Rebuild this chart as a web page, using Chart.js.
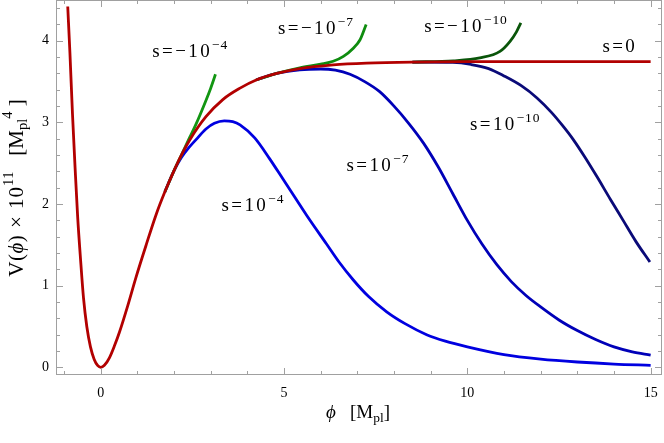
<!DOCTYPE html>
<html><head><meta charset="utf-8">
<script src="https://cdn.jsdelivr.net/npm/chart.js@4.4.1/dist/chart.umd.min.js"></script>
<style>html,body{margin:0;padding:0;background:#fff;}#wrap{width:664px;height:443px;}</style>
</head><body><div id="wrap"><canvas id="c" width="664" height="443"></canvas></div>
<script>
// ---- tick labels ----
const xTicks = [0, 5, 10, 15];
const yTicks = [0, 1, 2, 3, 4];
const xMinorTicks = [-1,0,1,2,3,4,5,6,7,8,9,10,11,12,13,14,15];
const yMinorTicks = [0,0.2,0.4,0.6,0.8,1,1.2,1.4,1.6,1.8,2,2.2,2.4,2.6,2.8,3,3.2,3.4,3.6,3.8,4,4.2,4.4];

// ---- series (phi, V) ----
const phiS0 = [-0.90,-0.84,-0.77,-0.70,-0.63,-0.55,-0.47,-0.38,-0.28,-0.18,-0.08,0,0.10,0.24,0.38,0.51,0.74,0.96,1.24,1.51,1.75,2.0,2.2,2.42,2.87,3.33,3.8,4.24,4.8,5.43,6.34,7.25,8.5,10,12,15];
const vS0   = [4.42,3.85,3.10,2.45,1.85,1.32,0.85,0.50,0.25,0.10,0.02,0,0.025,0.12,0.27,0.43,0.76,1.10,1.50,1.87,2.15,2.41,2.60,2.78,3.07,3.28,3.42,3.52,3.60,3.66,3.705,3.727,3.74,3.745,3.745,3.745];

const phiM4 = [1.75,2.0,2.2,2.42,2.6,2.87,3.0,3.13];
const vM4   = [2.15,2.41,2.60,2.81,2.98,3.27,3.42,3.59];

const phiM7 = [4.24,4.8,5.43,6.0,6.34,6.62,6.89,7.07,7.24];
const vM7   = [3.52,3.60,3.67,3.715,3.75,3.81,3.91,4.01,4.20];

const phiM10 = [8.5,9.62,10.34,10.89,11.16,11.34,11.46];
const vM10   = [3.74,3.755,3.79,3.87,3.99,4.11,4.22];

const phiP4 = [1.75,2.0,2.2,2.42,2.6,2.87,3.1,3.37,3.6,3.8,4.2,4.6,4.98,5.3,5.62,6.16,6.5,6.89,7.3,7.8,8.3,8.89,9.4,10,11,12,13,14,15];
const vP4   = [2.15,2.41,2.57,2.70,2.79,2.92,2.99,3.02,3.01,2.97,2.81,2.56,2.30,2.08,1.86,1.51,1.29,1.07,0.87,0.68,0.535,0.40,0.32,0.25,0.155,0.10,0.065,0.04,0.025];

const phiP7 = [4.24,4.8,5.43,6.0,6.4,6.8,7.2,7.6,8.0,8.4,8.8,9.2,9.6,10.0,10.4,10.8,11.2,11.6,12.0,12.5,13.0,13.5,14.0,14.5,15.0];
const vP7   = [3.52,3.60,3.645,3.655,3.64,3.59,3.50,3.38,3.20,2.99,2.75,2.46,2.13,1.80,1.51,1.26,1.05,0.88,0.74,0.58,0.45,0.34,0.25,0.19,0.15];

const phiP10 = [8.5,9.6,10.1,10.58,11.0,11.47,11.9,12.3,12.6,12.89,13.2,13.53,13.9,14.25,14.6,14.98];
const vP10   = [3.74,3.735,3.71,3.66,3.57,3.45,3.30,3.12,2.96,2.79,2.58,2.34,2.06,1.80,1.54,1.29];

// ---- curve labels: base text, superscript ----
const labelBase = ['s=\u221210','s=\u221210','s=\u221210','s=0','s=10','s=10','s=10'];
const labelSup  = ['\u22124','\u22127','\u221210','','\u221210','\u22127','\u22124'];
const labelPhi  = [2.44,5.87,9.96,14.16,11.03,7.56,4.15];
const labelV    = [3.89,4.17,4.19,3.95,2.99,2.49,2.00];

const SERIF = '"Liberation Serif","Times New Roman",serif';

function zip(xs, ys){ return xs.map((x,i)=>({x:x, y:ys[i]})); }

function ds(label, xs, ys, color){
  return {label, data: zip(xs,ys), borderColor: color, backgroundColor: color,
    borderWidth: 2.8, pointRadius: 0, fill: false, cubicInterpolationMode: 'monotone', borderCapStyle:'butt'};
}

function measureSegs(ctx, segs){
  let w = 0;
  for (const s of segs){
    ctx.font = (s.it?'italic ':'') + s.size + 'px ' + SERIF;
    for (const ch of s.t){ w += ctx.measureText(ch).width + (s.gap||0); }
  }
  return w;
}
function drawSegs(ctx, segs, x, y){
  for (const s of segs){
    ctx.font = (s.it?'italic ':'') + s.size + 'px ' + SERIF;
    for (const ch of s.t){
      ctx.fillText(ch, x, y + (s.dy||0));
      x += ctx.measureText(ch).width + (s.gap||0);
    }
  }
}

const framePlugin = {
  id: 'frame',
  afterDraw(chart){
    const {ctx, chartArea:a, scales:{x, y}} = chart;
    ctx.save();
    ctx.strokeStyle = '#a0a0a0';
    ctx.lineWidth = 1;
    ctx.strokeRect(a.left+0.5, a.top+0.5, a.right-a.left-1, a.bottom-a.top-1);
    ctx.beginPath();
    for (const v of xMinorTicks){
      const p = Math.round(x.getPixelForValue(v))+0.5;
      const L = xTicks.includes(v) ? 7 : 4;
      ctx.moveTo(p, a.bottom); ctx.lineTo(p, a.bottom-L);
      ctx.moveTo(p, a.top); ctx.lineTo(p, a.top+L);
    }
    for (const v of yMinorTicks){
      const p = Math.round(y.getPixelForValue(v))+0.5;
      const L = yTicks.includes(v) ? 7 : 4;
      ctx.moveTo(a.left, p); ctx.lineTo(a.left+L, p);
      ctx.moveTo(a.right, p); ctx.lineTo(a.right-L, p);
    }
    ctx.stroke();

    // curve labels
    ctx.fillStyle = '#000';
    ctx.textBaseline = 'alphabetic';
    ctx.textAlign = 'left';
    for (let i=0;i<labelBase.length;i++){
      const segs = [{t:labelBase[i], size:19, gap:2.4}];
      if (labelSup[i]) segs.push({t:labelSup[i], size:13.5, dy:-8, gap:0.8});
      const w = measureSegs(ctx, segs);
      const cx = x.getPixelForValue(labelPhi[i]);
      const cy = y.getPixelForValue(labelV[i]);
      drawSegs(ctx, segs, cx - w/2, cy + 7);
    }

    // axis titles
    const xt = [{t:'\u03D5', size:19, it:true},{t:'   [M', size:19},{t:'pl', size:13.5, dy:4},{t:']', size:19}];
    const wx = measureSegs(ctx, xt);
    drawSegs(ctx, xt, 358 - wx/2, 418);

    const yt = [{t:'V(', size:21, gap:0.5},{t:'\u03D5', size:21, it:true, gap:0.5},{t:') \u00D7 10', size:21, gap:1},{t:'11', size:14.5, dy:-10},
                {t:'   [M', size:21},{t:'pl', size:14.5, dy:4},{t:'4', size:14.5, dy:-11},{t:' ]', size:21}];
    const wy = measureSegs(ctx, yt);
    ctx.translate(23, 188);
    ctx.rotate(-Math.PI/2);
    drawSegs(ctx, yt, -wy/2, 0);
    ctx.restore();
  }
};

new Chart(document.getElementById('c'), {
  type: 'line',
  data: { datasets: [
    ds('s=0', phiS0, vS0, '#b20000'),
    ds('s=-1e-4', phiM4, vM4, '#129612'),
    ds('s=-1e-7', phiM7, vM7, '#0f8c0f'),
    ds('s=-1e-10', phiM10, vM10, '#0a550a'),
    ds('s=1e-4', phiP4, vP4, '#0000e0'),
    ds('s=1e-7', phiP7, vP7, '#0000b8'),
    ds('s=1e-10', phiP10, vP10, '#0a0a78')
  ]},
  options: {
    responsive: false, animation: false, devicePixelRatio: 1,
    layout: { padding: {left:0, right:2, top:0, bottom:0} },
    plugins: { legend:{display:false}, tooltip:{enabled:false} },
    scales: {
      x: { type:'linear', min:-1.22, max:15.31,
        grid:{display:false, drawTicks:false}, border:{display:false},
        ticks:{ font:{family:SERIF, size:14}, color:'#000', padding:10, maxRotation:0, autoSkip:false },
        afterBuildTicks(s){ s.ticks = xTicks.map(v=>({value:v})); },
        afterFit(s){ s.height = 68; s.paddingLeft = 0; s.paddingRight = 0; } },
      y: { type:'linear', min:-0.094, max:4.5,
        grid:{display:false, drawTicks:false}, border:{display:false},
        ticks:{ font:{family:SERIF, size:14}, color:'#000', padding:7, autoSkip:false },
        afterBuildTicks(s){ s.ticks = yTicks.map(v=>({value:v})); },
        afterFit(s){ s.width = 56; s.paddingTop = 0; s.paddingBottom = 0; } }
    }
  },
  plugins: [framePlugin]
});
</script></body></html>
